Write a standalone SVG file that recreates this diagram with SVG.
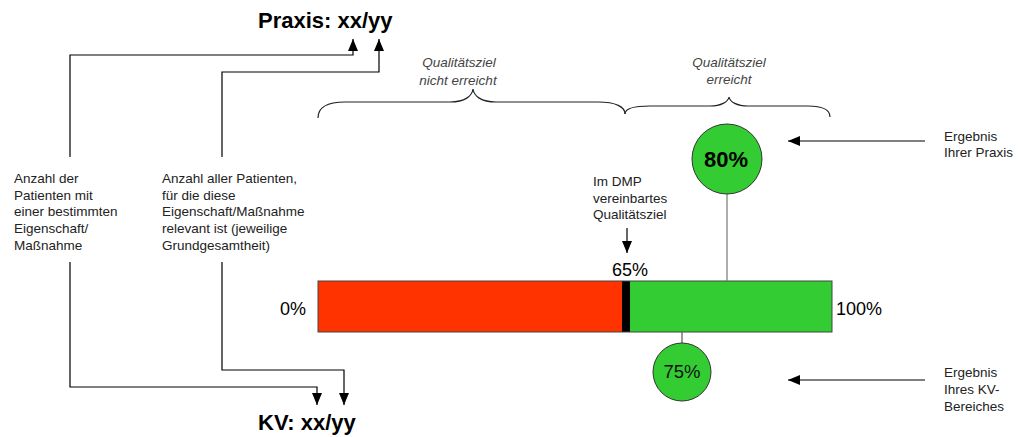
<svg xmlns="http://www.w3.org/2000/svg" width="1028" height="437" viewBox="0 0 1028 437">
<style>
text{font-family:"Liberation Sans",Arial,sans-serif;}
.lbl{font-size:13.5px;fill:#222;}
.it{font-size:13.5px;font-style:italic;fill:#444;}
.big{font-size:22px;font-weight:bold;fill:#000;}
.pct{font-size:18px;fill:#000;}
.ln{fill:none;stroke:#000;stroke-width:1.2;}
.brace{fill:none;stroke:#222;stroke-width:1.2;}
.circ{fill:#33CC33;stroke:#333;stroke-width:1;}
</style>
<defs>
<marker id="ah" markerUnits="userSpaceOnUse" markerWidth="12" markerHeight="10" refX="12" refY="5" orient="auto">
<path d="M0,0 L12,5 L0,10 z" fill="#000"/>
</marker>
</defs>
<rect width="1028" height="437" fill="#fff"/>

<g id="title-praxis"><text class="big" x="258" y="28">Praxis: xx/yy</text></g>
<g id="title-kv"><text class="big" x="258" y="430">KV: xx/yy</text></g>

<g id="label-anzahl">
<text class="lbl" x="14" y="183">Anzahl der</text>
<text class="lbl" x="14" y="199.7">Patienten mit</text>
<text class="lbl" x="14" y="216.3">einer bestimmten</text>
<text class="lbl" x="14" y="233">Eigenschaft/</text>
<text class="lbl" x="14" y="249.7">Maßnahme</text>
</g>
<g id="label-grundgesamtheit">
<text class="lbl" x="162" y="183">Anzahl aller Patienten,</text>
<text class="lbl" x="162" y="199.7">für die diese</text>
<text class="lbl" x="162" y="216.3">Eigenschaft/Maßnahme</text>
<text class="lbl" x="162" y="233">relevant ist (jeweilige</text>
<text class="lbl" x="162" y="249.7">Grundgesamtheit)</text>
</g>

<g id="braces">
<path class="brace" d="M318,118 C318,108 325,102 345,102 L450,102 C465,102 472,96 473,89 C474,96 481,102 496,102 L598,102 C616,102 625,107 625,114"/>
<path class="brace" d="M625,114 C625,109 632,106 650,106 L710,106 C721,106 728,102 729,97 C730,102 737,106 748,106 L808,106 C822,106 830,110 830,117"/>
<text class="it" x="459" y="67" text-anchor="middle">Qualitätsziel</text>
<text class="it" x="458" y="85" text-anchor="middle">nicht erreicht</text>
<text class="it" x="729" y="67" text-anchor="middle">Qualitätsziel</text>
<text class="it" x="729" y="84" text-anchor="middle">erreicht</text>
</g>

<g id="bar">
<rect x="318" y="281" width="304" height="51" fill="#FF3300"/>
<rect x="622" y="281" width="8" height="51" fill="#000"/>
<rect x="630" y="281" width="202" height="51" fill="#33CC33"/>
<rect x="318" y="281" width="514" height="51" fill="none" stroke="#444" stroke-width="1"/>
<text class="pct" x="280" y="315">0%</text>
<text class="pct" x="836" y="315">100%</text>
<text class="pct" x="612" y="276">65%</text>
</g>

<g id="dmp-ziel">
<text class="lbl" x="593" y="186">Im DMP</text>
<text class="lbl" x="593" y="203">vereinbartes</text>
<text class="lbl" x="593" y="219">Qualitätsziel</text>
</g>

<g id="result-praxis">
<line x1="727" y1="194" x2="727" y2="281" stroke="#777" stroke-width="1.2"/>
<circle class="circ" cx="727" cy="159" r="35"/>
<text x="726" y="167" text-anchor="middle" style="font-size:22px;font-weight:bold;fill:#000">80%</text>
</g>
<g id="result-kv">
<line x1="682" y1="332" x2="682" y2="343" stroke="#555" stroke-width="1.2"/>
<circle class="circ" cx="682" cy="372" r="29"/>
<text x="682" y="378" text-anchor="middle" style="font-size:18.5px;fill:#111">75%</text>
</g>

<g id="label-ergebnis-praxis">
<text class="lbl" x="944" y="141">Ergebnis</text>
<text class="lbl" x="944" y="157">Ihrer Praxis</text>
</g>
<g id="label-ergebnis-kv">
<text class="lbl" x="944" y="377">Ergebnis</text>
<text class="lbl" x="944" y="394">Ihres KV-</text>
<text class="lbl" x="944" y="411">Bereiches</text>
</g>

<g id="connectors">
<path class="ln" d="M70,157 V55 H353 V39" marker-end="url(#ah)"/>
<path class="ln" d="M222,157 V72 H379 V39" marker-end="url(#ah)"/>
<path class="ln" d="M70,262 V387 H317 V405" marker-end="url(#ah)"/>
<path class="ln" d="M222,262 V370 H344 V405" marker-end="url(#ah)"/>
<path class="ln" d="M627,228 V253" marker-end="url(#ah)"/>
<path class="ln" d="M925,141 H788" marker-end="url(#ah)"/>
<path class="ln" d="M925,380 H788" marker-end="url(#ah)"/>
</g>
</svg>
